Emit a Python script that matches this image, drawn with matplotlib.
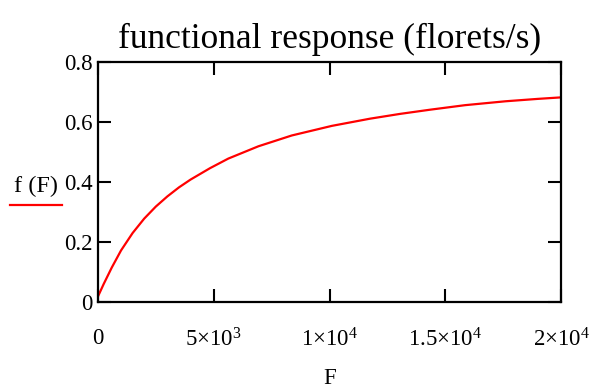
import matplotlib
matplotlib.use("Agg")
import matplotlib.pyplot as plt
from matplotlib.lines import Line2D

plt.rcParams['font.family'] = ['Liberation Serif', 'DejaVu Serif']
plt.rcParams['mathtext.fontset'] = 'custom'
plt.rcParams['mathtext.rm'] = 'Liberation Serif'
plt.rcParams['mathtext.it'] = 'Liberation Serif:italic'

# values
F = [0, 250, 600, 1000, 1500, 2000, 2500, 3000, 3500, 4000, 4840, 5630, 6930,
     8370, 10100, 11750, 13050, 14350, 15850, 17600, 19000, 20000]
fF = [0.018, 0.060, 0.115, 0.172, 0.230, 0.278, 0.318, 0.352, 0.382, 0.408,
      0.446, 0.478, 0.519, 0.555, 0.587, 0.611, 0.627, 0.641, 0.656, 0.669,
      0.677, 0.682]

xticks = [0, 5000, 10000, 15000, 20000]
xlabels = ['0', r'$\mathrm{5{\times}10^{3}}$', r'$\mathrm{1{\times}10^{4}}$',
           r'$\mathrm{1.5{\times}10^{4}}$', r'$\mathrm{2{\times}10^{4}}$']
yticks = [0, 0.2, 0.4, 0.6, 0.8]
ylabels = ['0', '0.2', '0.4', '0.6', '0.8']

fig = plt.figure(figsize=(5.97, 3.89), dpi=100)
ax = fig.add_axes([0.164, 0.2237, 0.776, 0.617])

ax.plot(F, fF, color='red', lw=1.6)
ax.set_xlim(0, 20000)
ax.set_ylim(0, 0.8)

ax.set_xticks(xticks)
ax.set_xticklabels(xlabels)
ax.set_yticks(yticks)
ax.set_yticklabels(ylabels)
ax.tick_params(direction='in', length=9.5, width=1.5, top=True, right=True,
               labelsize=16.5, colors='black')
ax.tick_params(axis='x', pad=19)
ax.tick_params(axis='y', pad=4)
for s in ax.spines.values():
    s.set_linewidth(1.6)

ax.set_title('functional response (florets/s)', fontsize=25.5, pad=10)
ax.set_xlabel('F', fontsize=16.5, labelpad=12)

# y label with line sample, Mathcad style
fig.text(36 / 597, 1 - 186 / 389, 'f (F)', fontsize=17.5, ha='center', va='center')
fig.add_artist(Line2D([10 / 597, 62 / 597], [1 - 205 / 389, 1 - 205 / 389],
                      color='red', lw=1.6, transform=fig.transFigure))

fig.savefig('out.png', dpi=100)
